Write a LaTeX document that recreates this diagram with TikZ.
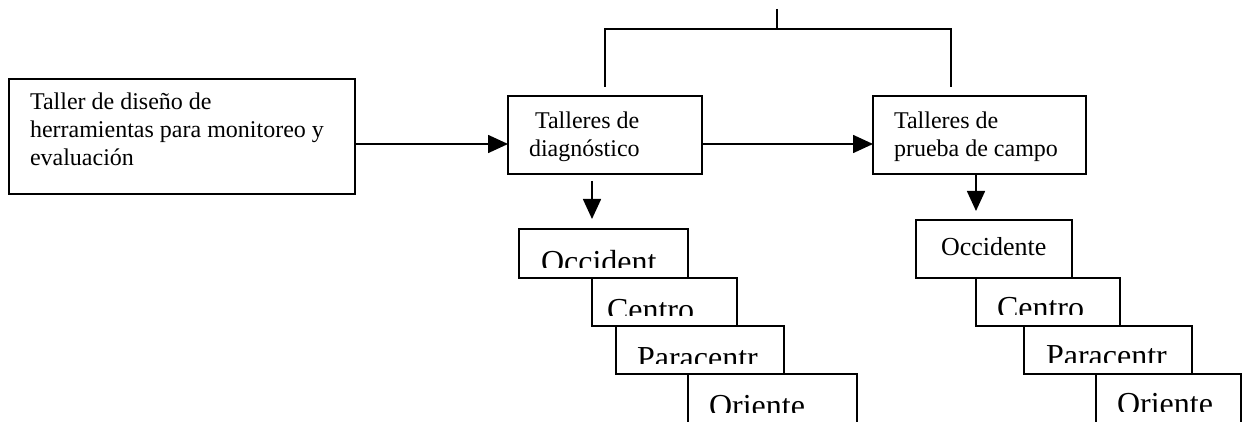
\documentclass[tikz,border=0pt]{standalone}
\usepackage{fontspec}
\setmainfont{Liberation Serif}
\usetikzlibrary{arrows.meta}
\tikzset{
  bx/.style={draw, line width=1.6pt, fill=white, inner sep=0pt, outer sep=0pt, rectangle, anchor=north west},
  lbl/.style={inner sep=0pt, outer sep=0pt, anchor=base west},
  con/.style={line width=1.6pt},
  arr/.style={line width=1.6pt, -{Triangle[length=20pt,width=18pt]}},
  big/.style={font=\fontsize{32}{36}\selectfont},
  mid/.style={font=\fontsize{24}{28}\selectfont}
}
\newcommand\mkbox[5]{\node[bx, minimum width={#4-#2}, minimum height={#5-#3}] (#1) at (#2,#3) {};}
\begin{document}
\begin{tikzpicture}[x=1pt,y=-1pt]
\useasboundingbox (0,0) rectangle (1244,422);
% main boxes
\mkbox{lb}{9}{79}{355}{194}
\node[lbl] (lbt) at (30,110) {\parbox[t]{320pt}{\fontsize{24}{28}\selectfont Taller de diseño de\\herramientas para monitoreo y\\evaluación}};
\mkbox{dg}{508}{96}{702}{174}
\node[lbl, mid] (dgt1) at (535,129) {Talleres de};
\node[lbl, mid] (dgt2) at (529,157) {diagnóstico};
\mkbox{fd}{873}{96}{1086}{174}
\node[lbl, mid] (fdt1) at (894,129) {Talleres de};
\node[lbl, mid] (fdt2) at (894,157) {prueba de campo};
% horizontal arrows
\coordinate (row) at (0,144);
\draw[arr] (lb.east |- row) -- (dg.west |- row);
\draw[arr] (dg.east |- row) -- (fd.west |- row);
% top bracket
\coordinate (tp) at (777,9);
\coordinate (tj) at (777,29);
\coordinate (la) at (605,29);
\coordinate (lz) at (605,87);
\coordinate (ra) at (951,29);
\coordinate (rz) at (951,87);
\draw[con] (tp) -- (tj);
\draw[con] (lz) -- (la) -- (ra) -- (rz);
% left staircase
\mkbox{lo}{519}{229}{688}{278}
\mkbox{lc}{592}{278}{737}{326}
\mkbox{lp}{616}{326}{784}{374}
\mkbox{lr}{688}{374}{857}{428}
\begin{scope}\clip (519,229) rectangle (688,267);
\node[lbl, big] (lot) at (541,272) {Occident};\end{scope}
\begin{scope}\clip (592,278) rectangle (737,315);
\node[lbl, big] (lct) at (607,320) {Centro};\end{scope}
\begin{scope}\clip (616,326) rectangle (784,363);
\node[lbl, big] (lpt) at (637,368) {Paracentr};\end{scope}
\begin{scope}\clip (688,374) rectangle (857,412);
\node[lbl, big] (lrt) at (709,416) {Oriente};\end{scope}
% right staircase
\mkbox{ro}{916}{220}{1072}{278}
\node[lbl, font=\fontsize{26}{30}\selectfont] (rot) at (941,255) {Occidente};
\mkbox{rc}{976}{278}{1120}{326}
\mkbox{rp}{1024}{326}{1192}{374}
\mkbox{rr}{1096}{374}{1241}{428}
\begin{scope}\clip (976,278) rectangle (1120,314);
\node[lbl, big] (rct) at (997,318) {Centro};\end{scope}
\begin{scope}\clip (1024,326) rectangle (1192,362);
\node[lbl, big] (rpt) at (1046,366) {Paracentr};\end{scope}
\begin{scope}\clip (1096,374) rectangle (1241,411);
\node[lbl, big] (rrt) at (1117,414) {Oriente};\end{scope}
% down arrows
\coordinate (da) at (592,181);
\coordinate (db) at (592,219);
\draw[arr] (da) -- (db);
\coordinate (fb) at (976,211);
\draw[arr] (fd.south -| fb) -- (fb);
\end{tikzpicture}
\end{document}
